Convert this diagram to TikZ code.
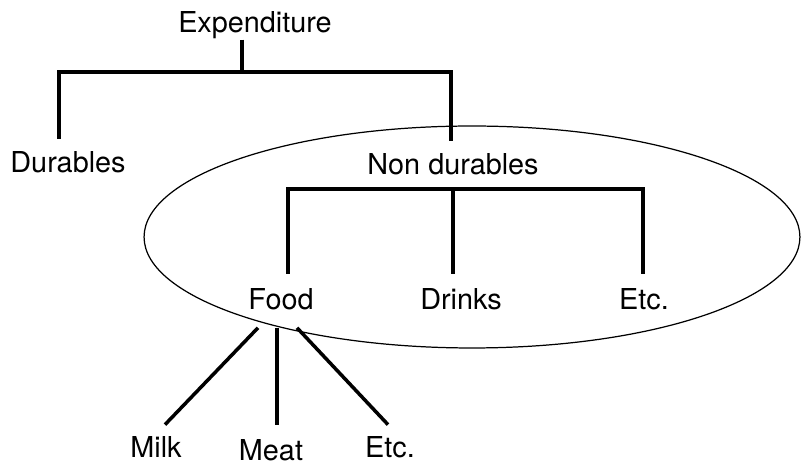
\documentclass[tikz,border=0pt]{standalone}
\usepackage{fontspec}
\setmainfont{TeX Gyre Heros}
\usepackage{tikz}
\usetikzlibrary{calc}
\tikzset{
  lab/.style={font=\fontsize{16.4}{19}\selectfont, inner sep=0pt, anchor=base},
  branch/.style={draw=black, line width=2pt},
  setline/.style={draw=black, line width=0.7pt}
}

\begin{document}
\begin{tikzpicture}[x=0.02cm, y=-0.02cm]
  \useasboundingbox (0,0) rectangle (802,465);

  % labels
  \node[lab] (exp) at (255,33) {Expenditure};
  \node[lab] (dur) at (68,173) {Durables};
  \node[lab] (nondur) at (453,175) {Non durables};
  \node[lab] (food) at (281,310) {Food};
  \node[lab] (drinks) at (461,310) {Drinks};
  \node[lab] (etc) at (644,310) {Etc.};
  \node[lab] (milk) at (156,458) {Milk};
  \node[lab] (meat) at (271,461) {Meat};
  \node[lab] (etcfood) at (390,458) {Etc.};

  % the non durables set
  \draw[setline] (472,237) ellipse [x radius=6.56cm, y radius=2.22cm];

  % top level
  \coordinate (expbar) at (242,72);
  \draw[branch] (expbar |- exp.south) -- (expbar);
  \draw[branch] ($(dur.north)+(-9,-13)$) |- (expbar) -| ($(nondur.north)+(-2,-13)$);

  % second level
  \coordinate (ndbar) at (453,189);
  \draw[branch] ($(food.north)+(7,-15)$) |- (ndbar) -| ($(etc.north)+(-1,-15)$);
  \draw[branch] (ndbar) -- ($(drinks.north)+(-8,-15)$);

  % third level
  \draw[branch] ($(food.south)+(-23,17)$) -- ($(milk.north)+(9,-12)$);
  \draw[branch] ($(food.south)+(-4,17)$) -- ($(meat.north)+(6,-15)$);
  \draw[branch] ($(food.south)+(16,17)$) -- ($(etcfood.north)+(-2,-12)$);
\end{tikzpicture}
\end{document}
